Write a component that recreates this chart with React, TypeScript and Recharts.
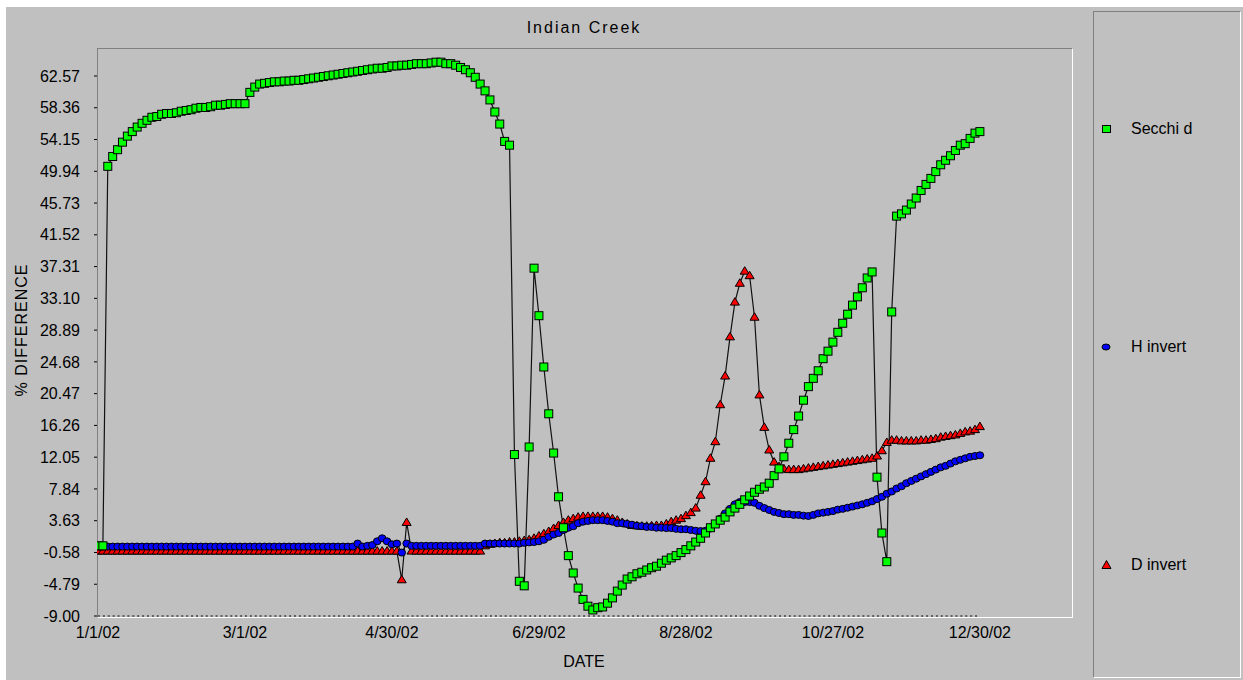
import React from "react";
import { LineChart, Line, XAxis, YAxis, ReferenceLine } from "recharts";

const dateLabels = ["1/1/02", "3/1/02", "4/30/02", "6/29/02", "8/28/02", "10/27/02", "12/30/02"];
const dateTickIndex = [0, 30, 60, 90, 120, 150, 180];
const yTicks = [
  -9.0, -4.79, -0.58, 3.63, 7.84, 12.05, 16.26, 20.47, 24.68, 28.89, 33.1, 37.31, 41.52, 45.73,
  49.94, 54.15, 58.36, 62.57,
];

// Secchi d
const secchiD = [
  0.3, 0.3, 50.6, 51.9, 52.8, 53.8, 54.6, 55.2, 55.8, 56.3,
  56.7, 57.1, 57.2, 57.5, 57.6, 57.6, 57.7, 57.9, 58.0, 58.1,
  58.3, 58.4, 58.4, 58.5, 58.7, 58.7, 58.8, 58.9, 58.9, 58.9,
  58.9, 60.4, 61.1, 61.5, 61.6, 61.7, 61.8, 61.8, 61.9, 61.9,
  62.0, 62.0, 62.1, 62.2, 62.3, 62.4, 62.5, 62.6, 62.7, 62.8,
  62.9, 63.0, 63.1, 63.2, 63.3, 63.4, 63.5, 63.6, 63.6, 63.7,
  63.9, 63.9, 64.0, 64.0, 64.1, 64.2, 64.2, 64.2, 64.3, 64.4,
  64.4, 64.2, 64.2, 64.0, 63.7, 63.4, 63.0, 62.4, 61.5, 60.6,
  59.4, 57.8, 56.2, 53.9, 53.4, 12.4, -4.4, -5.0, 13.4, 37.1,
  30.8, 24.0, 17.8, 12.6, 6.8, 2.7, -1.0, -3.3, -5.3, -6.8,
  -7.7, -8.2, -7.9, -7.8, -7.3, -6.6, -5.7, -4.9, -4.1, -3.8,
  -3.4, -3.2, -2.9, -2.6, -2.4, -2.0, -1.6, -1.3, -1.0, -0.6,
  -0.2, 0.3, 0.8, 1.3, 2.0, 2.7, 3.2, 3.7, 4.1, 4.8,
  5.3, 5.8, 6.4, 6.9, 7.4, 7.8, 8.1, 8.6, 9.6, 10.5,
  12.1, 13.9, 15.7, 17.5, 19.6, 21.4, 22.5, 23.5, 25.1, 26.1,
  27.3, 28.6, 29.8, 31.0, 32.2, 33.3, 34.5, 35.8, 36.6, 9.4,
  2.0, -1.8, 31.3, 44.0, 44.3, 44.8, 45.6, 46.4, 47.4, 48.2,
  49.0, 49.9, 50.8, 51.4, 52.0, 52.7, 53.4, 53.6, 54.3, 55.0,
  55.2,
];

// H invert
const hInvert = [
  0.2, 0.2, 0.2, 0.2, 0.2, 0.2, 0.2, 0.2, 0.2, 0.2,
  0.2, 0.2, 0.2, 0.2, 0.2, 0.2, 0.2, 0.2, 0.2, 0.2,
  0.2, 0.2, 0.2, 0.2, 0.2, 0.2, 0.2, 0.2, 0.2, 0.2,
  0.2, 0.2, 0.2, 0.2, 0.2, 0.2, 0.2, 0.2, 0.2, 0.2,
  0.2, 0.2, 0.2, 0.2, 0.2, 0.2, 0.2, 0.2, 0.2, 0.2,
  0.2, 0.2, 0.2, 0.6, 0.2, 0.3, 0.4, 0.9, 1.3, 0.9,
  0.5, 0.6, -0.6, 0.6, 0.3, 0.3, 0.3, 0.3, 0.3, 0.3,
  0.3, 0.3, 0.3, 0.3, 0.3, 0.3, 0.3, 0.3, 0.3, 0.6,
  0.6, 0.6, 0.6, 0.6, 0.6, 0.6, 0.6, 0.7, 0.75, 0.8,
  0.9, 1.1, 1.5, 1.8, 2.0, 2.4, 2.7, 2.9, 3.3, 3.5,
  3.6, 3.7, 3.7, 3.7, 3.6, 3.5, 3.3, 3.3, 3.2, 3.1,
  2.95, 2.9, 2.8, 2.8, 2.7, 2.7, 2.65, 2.65, 2.55, 2.5,
  2.5, 2.4, 2.3, 2.25, 2.3, 2.6, 3.2, 3.9, 4.6, 5.2,
  5.8, 6.1, 6.1, 6.1, 6.0, 5.6, 5.3, 5.05, 4.8, 4.65,
  4.5, 4.5, 4.4, 4.4, 4.3, 4.25, 4.4, 4.6, 4.7, 4.8,
  4.9, 5.1, 5.2, 5.35, 5.5, 5.65, 5.8, 6.0, 6.2, 6.5,
  6.8, 7.2, 7.5, 7.9, 8.2, 8.6, 8.9, 9.2, 9.5, 9.8,
  10.1, 10.4, 10.7, 10.9, 11.2, 11.5, 11.7, 11.9, 12.1, 12.2,
  12.3,
];

// D invert
const dInvert = [
  -0.4, -0.4, -0.4, -0.4, -0.4, -0.4, -0.4, -0.4, -0.4, -0.4,
  -0.4, -0.4, -0.4, -0.4, -0.4, -0.4, -0.4, -0.4, -0.4, -0.4,
  -0.4, -0.4, -0.4, -0.4, -0.4, -0.4, -0.4, -0.4, -0.4, -0.4,
  -0.4, -0.4, -0.4, -0.4, -0.4, -0.4, -0.4, -0.4, -0.4, -0.4,
  -0.4, -0.4, -0.4, -0.4, -0.4, -0.4, -0.4, -0.4, -0.4, -0.4,
  -0.4, -0.4, -0.4, -0.4, -0.4, -0.4, -0.4, -0.4, -0.4, -0.4,
  -0.4, -0.4, -4.2, 3.4, -0.4, -0.4, -0.4, -0.4, -0.4, -0.4,
  -0.4, -0.4, -0.4, -0.4, -0.4, -0.4, -0.4, -0.4, -0.4, 0.3,
  0.5, 0.6, 0.7, 0.7, 0.8, 0.8, 0.9, 1.0, 1.1, 1.3,
  1.6, 1.9, 2.2, 2.6, 3.0, 3.4, 3.7, 3.9, 4.1, 4.2,
  4.2, 4.2, 4.2, 4.2, 4.1, 3.9, 3.7, 3.4, 3.2, 3.0,
  2.95, 2.9, 2.9, 2.95, 3.0, 3.0, 3.2, 3.5, 3.7, 3.9,
  4.3, 4.7, 5.3, 7.0, 8.8, 11.9, 14.1, 19.0, 22.8, 28.0,
  32.6, 35.1, 36.7, 36.1, 30.6, 20.3, 16.0, 13.0, 11.4, 10.8,
  10.5, 10.4, 10.4, 10.4, 10.5, 10.6, 10.7, 10.8, 10.9, 11.0,
  11.1, 11.2, 11.3, 11.4, 11.5, 11.6, 11.7, 11.8, 11.9, 12.2,
  12.9, 14.0, 14.3, 14.3, 14.2, 14.2, 14.2, 14.2, 14.3, 14.3,
  14.4, 14.5, 14.7, 14.8, 14.9, 15.0, 15.2, 15.4, 15.5, 15.7,
  16.1,
];

const data = secchiD.map((v, i) => ({ i, secchi: v, h: hInvert[i], d: dInvert[i] }));

const font = '"Liberation Sans", Arial, sans-serif';
const gray = "#c0c0c0";
const lineColor = "#111";

function SquareDot({ cx, cy }: any) {
  if (cx == null || cy == null) return null;
  return <rect x={cx - 4} y={cy - 4} width={8} height={8} fill="#00ff00" stroke="#000" strokeWidth={1} />;
}

function RoundDot({ cx, cy }: any) {
  if (cx == null || cy == null) return null;
  return <ellipse cx={cx} cy={cy} rx={3.8} ry={3.5} fill="#0000ff" stroke="#000" strokeWidth={1} />;
}

function TriDot({ cx, cy }: any) {
  if (cx == null || cy == null) return null;
  return (
    <polygon
      points={`${cx},${cy - 4.5} ${cx + 4.5},${cy + 3} ${cx - 4.5},${cy + 3}`}
      fill="#ff0000"
      stroke="#000"
      strokeWidth={1}
    />
  );
}

function LegendItem({ top, label, children }: { top: number; label: string; children: React.ReactNode }) {
  return (
    <div style={{ position: "absolute", left: 1098, top: top - 10, height: 20, display: "flex", alignItems: "center" }}>
      <svg width={16} height={12} style={{ marginRight: 17 }}>
        {children}
      </svg>
      <span style={{ fontSize: 16, fontFamily: font, color: "#000" }}>{label}</span>
    </div>
  );
}

export default function App() {
  return (
    <div style={{ position: "absolute", left: 0, top: 0, width: 1243, height: 680, background: "#fff", overflow: "hidden" }}>
      <div style={{ position: "absolute", left: 6, top: 7, right: 0, bottom: 0, background: gray }} />

      {/* plot frame */}
      <div
        style={{
          position: "absolute",
          left: 97,
          top: 48,
          width: 976,
          height: 570,
          boxSizing: "border-box",
          borderTop: "1px solid #808080",
          borderLeft: "1px solid #808080",
          borderRight: "1px solid #ffffff",
          borderBottom: "1px solid #ffffff",
        }}
      />

      <div
        style={{
          position: "absolute",
          left: 0,
          width: 1168,
          top: 19,
          textAlign: "center",
          fontFamily: font,
          fontSize: 16,
          letterSpacing: 2,
          color: "#000",
        }}
      >
        Indian Creek
      </div>
      <div
        style={{
          position: "absolute",
          left: 0,
          width: 1168,
          top: 653,
          textAlign: "center",
          fontFamily: font,
          fontSize: 16,
          color: "#000",
        }}
      >
        DATE
      </div>
      <div
        style={{
          position: "absolute",
          left: 22,
          top: 330,
          transform: "translate(-50%, -50%) rotate(-90deg)",
          whiteSpace: "nowrap",
          fontFamily: font,
          fontSize: 16,
          letterSpacing: 1,
          color: "#000",
        }}
      >
        % DIFFERENCE
      </div>

      <div style={{ position: "absolute", left: 0, top: 0 }}>
        <LineChart width={1243} height={680} data={data} margin={{ top: 48, right: 171, bottom: 24, left: 37 }}>
          <XAxis
            dataKey="i"
            type="number"
            domain={[-0.2, 198.8]}
            allowDataOverflow
            ticks={dateTickIndex}
            interval={0}
            tickFormatter={(v: number) => dateLabels[dateTickIndex.indexOf(v)] ?? ""}
            axisLine={false}
            tickLine={false}
            tickSize={0}
            tickMargin={11}
            height={40}
            tick={{ fill: "#000", fontSize: 16, fontFamily: font }}
          />
          <YAxis
            type="number"
            domain={[-9, 66.28]}
            allowDataOverflow
            ticks={yTicks}
            interval={0}
            tickFormatter={(v: number) => v.toFixed(2)}
            axisLine={false}
            tickLine={{ stroke: "#000" }}
            tickSize={3}
            tickMargin={14}
            width={60}
            tick={{ fill: "#000", fontSize: 16, fontFamily: font }}
          />
          <ReferenceLine
            segment={[
              { x: 0, y: -9 },
              { x: 180, y: -9 },
            ]}
            stroke="#000"
            strokeDasharray="2 2.9"
            ifOverflow="visible"
          />
          <Line
            dataKey="d"
            type="linear"
            stroke={lineColor}
            strokeWidth={1.2}
            isAnimationActive={false}
            activeDot={false}
            dot={(p: any) => <TriDot key={`d${p.index}`} cx={p.cx} cy={p.cy} />}
          />
          <Line
            dataKey="h"
            type="linear"
            stroke={lineColor}
            strokeWidth={1.2}
            isAnimationActive={false}
            activeDot={false}
            dot={(p: any) => <RoundDot key={`h${p.index}`} cx={p.cx} cy={p.cy} />}
          />
          <Line
            dataKey="secchi"
            type="linear"
            stroke={lineColor}
            strokeWidth={1.2}
            isAnimationActive={false}
            activeDot={false}
            dot={(p: any) => <SquareDot key={`s${p.index}`} cx={p.cx} cy={p.cy} />}
          />
        </LineChart>
      </div>

      {/* legend box */}
      <div
        style={{
          position: "absolute",
          left: 1093,
          top: 11,
          width: 148,
          height: 667,
          boxSizing: "border-box",
          borderTop: "1px solid #808080",
          borderLeft: "1px solid #808080",
          borderRight: "1px solid #ffffff",
          borderBottom: "1px solid #ffffff",
        }}
      />
      <LegendItem top={129} label="Secchi d">
        <rect x={4.5} y={2.5} width={8} height={7} fill="#00ff00" stroke="#000" />
      </LegendItem>
      <LegendItem top={347} label="H invert">
        <ellipse cx={8} cy={6} rx={4} ry={3} fill="#0000ff" stroke="#000" />
      </LegendItem>
      <LegendItem top={565} label="D invert">
        <polygon points="8.5,1.5 13,9.5 4,9.5" fill="#ff0000" stroke="#000" />
      </LegendItem>
    </div>
  );
}
